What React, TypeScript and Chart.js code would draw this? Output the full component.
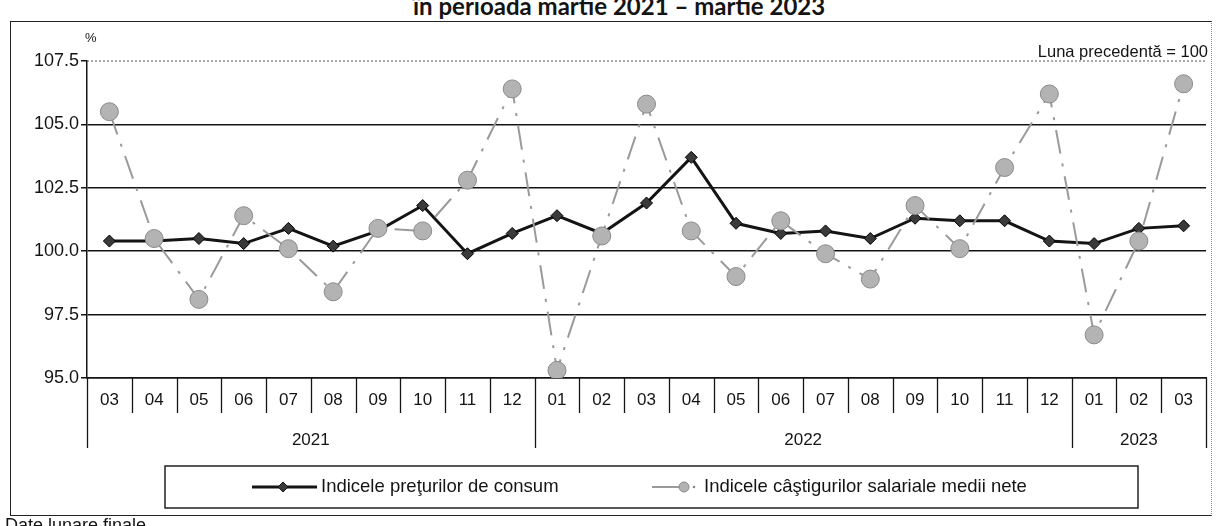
import React, { useEffect, useRef } from "react";
import { Chart, registerables } from "chart.js";

Chart.register(...registerables);

const months = ["03", "04", "05", "06", "07", "08", "09", "10", "11", "12", "01", "02", "03", "04", "05", "06", "07", "08", "09", "10", "11", "12", "01", "02", "03"];
const years = ["2021", "2022", "2023"];
const monthsPerYear = [10, 12, 3];
const cpiValues = [100.4, 100.4, 100.5, 100.3, 100.9, 100.2, 100.8, 101.8, 99.9, 100.7, 101.4, 100.7, 101.9, 103.7, 101.1, 100.7, 100.8, 100.5, 101.3, 101.2, 101.2, 100.4, 100.3, 100.9, 101.0];
const wageValues = [105.5, 100.5, 98.1, 101.4, 100.1, 98.4, 100.9, 100.8, 102.8, 106.4, 95.3, 100.6, 105.8, 100.8, 99.0, 101.2, 99.9, 98.9, 101.8, 100.1, 103.3, 106.2, 96.7, 100.4, 106.6];
const yMin = 95;
const yMax = 107.5;
const yStep = 2.5;
const cpiLabel = "Indicele preţurilor de consum";
const wageLabel = "Indicele câştigurilor salariale medii nete";

const FONT = "'Liberation Sans', Arial, sans-serif";
const INK = "#141414";
const GREY_LINE = "#9a9a9a";
const GREY_FILL = "#b3b3b3";
const GREY_EDGE = "#8a8a8a";

const decorPlugin = {
  id: "decor",
  afterDraw(chart: any) {
    const { ctx, chartArea, scales } = chart;
    const x = scales.x;
    const y = scales.y;
    const n = months.length;
    const step = x.getPixelForValue(1) - x.getPixelForValue(0);
    const bounds: number[] = [];
    for (let i = 0; i <= n; i++) {
      bounds.push(i < n ? x.getPixelForValue(i) - step / 2 : x.getPixelForValue(n - 1) + step / 2);
    }
    const groupStarts = new Set<number>();
    let acc = 0;
    groupStarts.add(0);
    monthsPerYear.forEach((c) => {
      acc += c;
      groupStarts.add(acc);
    });
    const bottom = chartArea.bottom;
    ctx.save();
    // dotted top line
    const yt = y.getPixelForValue(yMax);
    ctx.strokeStyle = "#555";
    ctx.lineWidth = 1;
    ctx.setLineDash([2, 2]);
    ctx.beginPath();
    ctx.moveTo(chartArea.left, yt);
    ctx.lineTo(chartArea.right, yt);
    ctx.stroke();
    ctx.setLineDash([]);
    // separators
    ctx.strokeStyle = INK;
    ctx.lineWidth = 1.3;
    for (let i = 0; i <= n; i++) {
      const len = groupStarts.has(i) ? 70 : 35;
      const bx = Math.round(bounds[i]) + 0.5;
      ctx.beginPath();
      ctx.moveTo(bx, bottom);
      ctx.lineTo(bx, bottom + len);
      ctx.stroke();
    }
    // year labels
    ctx.fillStyle = INK;
    ctx.font = `17px ${FONT}`;
    ctx.textAlign = "center";
    ctx.textBaseline = "middle";
    let start = 0;
    years.forEach((yr, k) => {
      const end = start + monthsPerYear[k];
      ctx.fillText(yr, (bounds[start] + bounds[end]) / 2, bottom + 62);
      start = end;
    });
    // legend box
    const lx0 = 165, lx1 = 1138, ly0 = bottom + 88, ly1 = bottom + 130;
    const ly = (ly0 + ly1) / 2;
    ctx.lineWidth = 1.5;
    ctx.strokeStyle = "#222";
    ctx.strokeRect(lx0, ly0, lx1 - lx0, ly1 - ly0);
    // cpi sample
    ctx.strokeStyle = INK;
    ctx.lineWidth = 3;
    ctx.beginPath();
    ctx.moveTo(252, ly);
    ctx.lineTo(317, ly);
    ctx.stroke();
    ctx.fillStyle = "#3a3a3a";
    ctx.lineWidth = 1;
    ctx.beginPath();
    ctx.moveTo(283, ly - 5);
    ctx.lineTo(288, ly);
    ctx.lineTo(283, ly + 5);
    ctx.lineTo(278, ly);
    ctx.closePath();
    ctx.fill();
    ctx.stroke();
    // wage sample
    ctx.strokeStyle = GREY_LINE;
    ctx.lineWidth = 2;
    ctx.beginPath();
    ctx.moveTo(652, ly);
    ctx.lineTo(680, ly);
    ctx.stroke();
    ctx.fillStyle = GREY_FILL;
    ctx.strokeStyle = GREY_EDGE;
    ctx.lineWidth = 1;
    ctx.beginPath();
    ctx.arc(684, ly, 5, 0, Math.PI * 2);
    ctx.fill();
    ctx.stroke();
    ctx.fillStyle = "#888";
    ctx.beginPath();
    ctx.arc(694, ly, 1.3, 0, Math.PI * 2);
    ctx.fill();
    // legend texts
    ctx.fillStyle = INK;
    ctx.font = `18.5px ${FONT}`;
    ctx.textAlign = "left";
    ctx.fillText(cpiLabel, 321, ly);
    ctx.fillText(wageLabel, 704, ly);
    ctx.restore();
  },
};

function ChartCanvas() {
  const ref = useRef<HTMLCanvasElement | null>(null);
  useEffect(() => {
    if (!ref.current) return;
    const chart = new Chart(ref.current, {
      type: "line",
      data: {
        labels: months,
        datasets: [
          {
            label: cpiLabel,
            data: cpiValues,
            borderColor: INK,
            borderWidth: 3,
            pointStyle: "rectRot",
            pointRadius: 6,
            pointBackgroundColor: "#3a3a3a",
            pointBorderColor: "#000",
            pointBorderWidth: 1,
            tension: 0,
            order: 1,
          },
          {
            label: wageLabel,
            data: wageValues,
            borderColor: GREY_LINE,
            borderWidth: 2,
            borderDash: [24, 10, 3, 10],
            pointStyle: "circle",
            pointRadius: 9,
            pointBackgroundColor: GREY_FILL,
            pointBorderColor: GREY_EDGE,
            pointBorderWidth: 1,
            tension: 0,
            order: 0,
          },
        ],
      },
      options: {
        responsive: true,
        maintainAspectRatio: false,
        animation: false,
        layout: { padding: { left: 0, right: 12, top: 61, bottom: 78 } },
        plugins: {
          legend: { display: false },
          tooltip: { enabled: false },
          title: { display: false },
        },
        scales: {
          x: {
            type: "category",
            offset: true,
            grid: { display: false, drawTicks: false },
            border: { display: true, color: INK, width: 1.5 },
            ticks: {
              color: INK,
              font: { family: FONT, size: 17 },
              padding: 12,
              maxRotation: 0,
              autoSkip: false,
            },
            afterFit: (s: any) => {
              s.height = 70;
            },
          },
          y: {
            min: yMin,
            max: yMax,
            ticks: {
              stepSize: yStep,
              color: INK,
              font: { family: FONT, size: 18 },
              padding: 2,
              callback: (v: any) => Number(v).toFixed(1),
            },
            grid: {
              color: (c: any) => (c.tick && c.tick.value === yMax ? "rgba(0,0,0,0)" : INK),
              tickColor: INK,
              lineWidth: 1.5,
              tickLength: 6,
            },
            border: { display: true, color: INK, width: 1.5 },
            afterFit: (s: any) => {
              s.width = 87;
            },
          },
        },
      },
      plugins: [decorPlugin],
    });
    return () => chart.destroy();
  }, []);
  return <canvas ref={ref} />;
}

export default function App() {
  return (
    <div
      style={{
        position: "absolute",
        left: 0,
        top: 0,
        width: 1218,
        height: 526,
        overflow: "hidden",
        background: "#fff",
        fontFamily: FONT,
        color: INK,
      }}
    >
      <div
        style={{
          position: "absolute",
          left: 413,
          top: -6,
          whiteSpace: "nowrap",
          fontFamily: "Lato, 'Open Sans', sans-serif",
          fontWeight: 700,
          fontSize: 24,
          lineHeight: "24px",
        }}
      >
        în perioada martie 2021 – martie 2023
      </div>
      <div
        style={{
          position: "absolute",
          left: 10,
          top: 21,
          width: 1200,
          height: 493,
          borderTop: "1.5px solid #222",
          borderLeft: "1.5px solid #222",
          borderBottom: "1.5px solid #222",
          borderRight: "1.5px dotted #888",
        }}
      />
      <div style={{ position: "absolute", left: 0, top: 0, width: 1218, height: 526 }}>
        <ChartCanvas />
      </div>
      <div style={{ position: "absolute", left: 85, top: 30, fontSize: 13, lineHeight: "16px" }}>%</div>
      <div
        style={{
          position: "absolute",
          right: 10,
          top: 41,
          fontSize: 16.5,
          lineHeight: "20px",
          whiteSpace: "nowrap",
        }}
      >
        Luna precedentă = 100
      </div>
      <div
        style={{
          position: "absolute",
          left: 5,
          top: 515,
          fontSize: 18,
          lineHeight: "20px",
          whiteSpace: "nowrap",
        }}
      >
        Date lunare finale
      </div>
    </div>
  );
}
